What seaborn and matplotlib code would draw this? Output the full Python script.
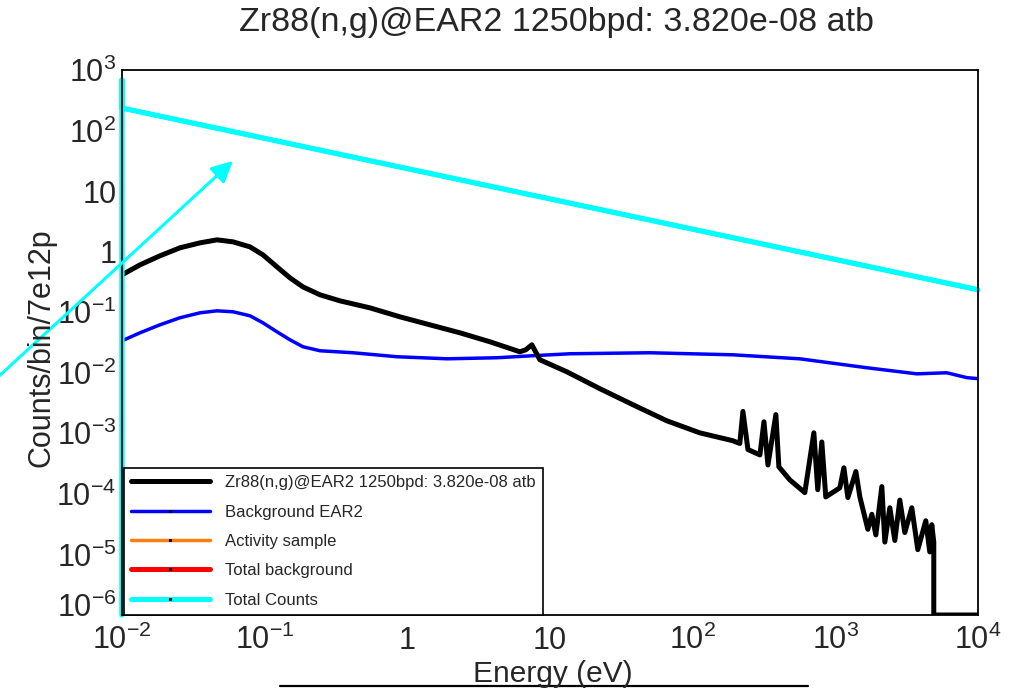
import matplotlib
matplotlib.use("Agg")
import matplotlib.pyplot as plt
import matplotlib.transforms as mtransforms
import seaborn as sns
import pandas as pd
from matplotlib.lines import Line2D
from matplotlib.ticker import FixedLocator, FixedFormatter, LogLocator, NullFormatter

# ---------------- data ----------------
title = "Zr88(n,g)@EAR2 1250bpd: 3.820e-08 atb"

sample_E = [0.01, 0.01337, 0.01845, 0.02547, 0.03521, 0.04634, 0.0600, 0.0789, 0.0973,
            0.1219, 0.1503, 0.1854, 0.2441, 0.3373, 0.5471, 0.8872, 1.439, 2.336, 3.79,
            6.15, 6.78, 7.46, 8.49, 13.1, 22.4, 38.1, 65.9, 112, 191, 214, 225, 244,
            296, 316, 337, 383, 402, 480, 611, 707, 753, 804, 857, 1075, 1148, 1224,
            1393, 1486, 1690, 1803, 1923, 2118, 2223, 2410, 2612, 2831, 3069, 3436,
            3784, 4305, 4592, 4742, 4898, 4898, 10000]
sample_counts = [0.414, 0.605, 0.853, 1.156, 1.397, 1.566, 1.452, 1.199, 0.885,
                 0.561, 0.370, 0.262, 0.194, 0.154, 0.118, 0.0839, 0.0619, 0.0457, 0.0325,
                 0.0222, 0.024, 0.029, 0.0164, 0.0104, 0.00545, 0.00297, 0.00161, 0.00102,
                 0.000755, 0.00068, 0.0023, 0.00054, 0.00044, 0.00155, 0.00030,
                 0.00204, 0.00028, 0.00017, 0.000105, 0.00102, 0.000117, 0.00072,
                 0.000089, 0.000126, 0.00027, 0.000087, 0.000234, 0.000089, 2.6e-5,
                 4.6e-5, 2.1e-5, 0.000132, 1.6e-5, 5.9e-5, 1.7e-5, 7.9e-5, 2.3e-5,
                 5.9e-5, 1.2e-5, 3.6e-5, 1.1e-5, 3.1e-5, 1.6e-5, 1e-6, 1e-6]

bkg_E = [0.01, 0.01337, 0.01845, 0.02547, 0.03521, 0.04634, 0.0600, 0.0789, 0.0973,
         0.1219, 0.1503, 0.1854, 0.2441, 0.416, 0.845, 1.90, 4.25, 7.23, 13.8, 50.1,
         191, 564, 1663, 3724, 6040, 8360, 10000]
bkg_counts = [0.0337, 0.0457, 0.0619, 0.0809, 0.0977, 0.1054, 0.1016, 0.0873, 0.0668,
              0.0475, 0.0351, 0.0269, 0.0231, 0.0214, 0.0184, 0.0170, 0.0177, 0.0190,
              0.0206, 0.0214, 0.0198, 0.0170, 0.0121, 0.0096, 0.0100, 0.0083, 0.0080]

total_E = [0.01, 0.01, 0.01, 0.1, 1, 10, 100, 1000, 10000]
total_counts = [1e-6, 684, 235, 74.3, 23.5, 7.43, 2.35, 0.743, 0.235]
activity_counts = [1e-6, 684, 235, 74.3, 23.5, 7.43, 2.35, 0.743, 0.235]
total_bkg_counts = [1e-6, 684, 235, 74.3, 23.5, 7.43, 2.35, 0.743, 0.235]

legend_labels = [title, "Background EAR2", "Activity sample", "Total background", "Total Counts"]
legend_colors = ["black", "#0000ff", "#ff7f0e", "#ff0000", "#00ffff"]

x_ticks = [1e-2, 1e-1, 1, 10, 1e2, 1e3, 1e4]
x_ticklabels = [r"$\mathdefault{10^{-2}}$", r"$\mathdefault{10^{-1}}$", "1", "10",
                r"$\mathdefault{10^{2}}$", r"$\mathdefault{10^{3}}$", r"$\mathdefault{10^{4}}$"]
y_ticks = [1e-6, 1e-5, 1e-4, 1e-3, 1e-2, 1e-1, 1, 10, 1e2, 1e3]
y_ticklabels = [r"$\mathdefault{10^{-6}}$", r"$\mathdefault{10^{-5}}$", r"$\mathdefault{10^{-4}}$",
                r"$\mathdefault{10^{-3}}$", r"$\mathdefault{10^{-2}}$", r"$\mathdefault{10^{-1}}$",
                "1", "10", r"$\mathdefault{10^{2}}$", r"$\mathdefault{10^{3}}$"]

# ---------------- style ----------------
sns.set_style("white")
plt.rcParams['font.family'] = ['Liberation Sans', 'DejaVu Sans']
plt.rcParams['mathtext.fontset'] = 'custom'
plt.rcParams['mathtext.rm'] = 'Liberation Sans'
plt.rcParams['mathtext.it'] = 'Liberation Sans'
plt.rcParams['mathtext.bf'] = 'Liberation Sans'

fig = plt.figure(figsize=(10.14, 6.88), dpi=100)
ax = fig.add_axes([0.1203, 0.1061, 0.8442, 0.7922])
ax.set_xscale('log')
ax.set_yscale('log')

df_sample = pd.DataFrame({"E": sample_E, "c": sample_counts})
df_bkg = pd.DataFrame({"E": bkg_E, "c": bkg_counts})
df_tot = pd.DataFrame({"E": total_E, "c": total_counts,
                       "act": activity_counts, "tb": total_bkg_counts})

sns.lineplot(data=df_bkg, x="E", y="c", sort=False, estimator=None, color=legend_colors[1],
             lw=2.5, ax=ax, legend=False)
sns.lineplot(data=df_sample, x="E", y="c", sort=False, estimator=None, color=legend_colors[0],
             lw=3.6, ax=ax, legend=False)
sns.lineplot(data=df_tot, x="E", y="act", sort=False, estimator=None, color=legend_colors[2],
             lw=2.0, ax=ax, legend=False, clip_on=False)
sns.lineplot(data=df_tot, x="E", y="tb", sort=False, estimator=None, color=legend_colors[3],
             lw=3.0, ax=ax, legend=False, clip_on=False)
sns.lineplot(data=df_tot, x="E", y="c", sort=False, estimator=None, color=legend_colors[4],
             lw=3.8, ax=ax, legend=False, clip_on=False)

ax.set_xlim(1e-2, 1e4)
ax.set_ylim(1e-6, 1e3)
ax.set_xlabel("")
ax.set_ylabel("")

ax.xaxis.set_major_locator(FixedLocator(x_ticks))
ax.xaxis.set_major_formatter(FixedFormatter(x_ticklabels))
ax.yaxis.set_major_locator(FixedLocator(y_ticks))
ax.yaxis.set_major_formatter(FixedFormatter(y_ticklabels))
ax.xaxis.set_minor_locator(LogLocator(base=10, subs=range(2, 10), numticks=20))
ax.yaxis.set_minor_locator(LogLocator(base=10, subs=range(2, 10), numticks=20))
ax.xaxis.set_minor_formatter(NullFormatter())
ax.yaxis.set_minor_formatter(NullFormatter())

ax.tick_params(axis='both', which='both', direction='in', top=False, right=False,
               color='black', width=1.0, labelsize=22)
ax.tick_params(axis='x', which='major', length=10, pad=24.5)
ax.tick_params(axis='x', which='minor', length=5)
ax.tick_params(axis='y', which='major', length=19, pad=4)
ax.tick_params(axis='y', which='minor', length=10)
for s in ax.spines.values():
    s.set_color('black')
    s.set_linewidth(1.3)

# arrow drawn in the reference
ax.annotate("", xy=(0.060, 31.5), xytext=(0.0013, 0.0078), xycoords='data', textcoords='data',
            arrowprops=dict(arrowstyle='-|>', color='#00ffff', lw=2.2, mutation_scale=32,
                            shrinkA=0, shrinkB=0),
            annotation_clip=False)

# legend
handles = [
    Line2D([], [], color=legend_colors[0], lw=3.6),
    Line2D([], [], color=legend_colors[1], lw=2.5, marker='s', ms=1.2, mfc='black', mec='black'),
    Line2D([], [], color=legend_colors[2], lw=2.5, marker='s', ms=1.2, mfc='black', mec='black'),
    Line2D([], [], color=legend_colors[3], lw=3.6, marker='s', ms=1.2, mfc='black', mec='black'),
    Line2D([], [], color=legend_colors[4], lw=3.6, marker='s', ms=1.2, mfc='black', mec='black'),
]
leg = ax.legend(handles, legend_labels, loc='lower left', bbox_to_anchor=(0.002, 0.0),
                frameon=True, fancybox=False, edgecolor='black', framealpha=1,
                fontsize=12, handlelength=4.7, handletextpad=0.95, labelspacing=0.86,
                borderpad=0.45, borderaxespad=0, numpoints=1)
leg.get_frame().set_linewidth(1.2)
leg.set_zorder(5)

# texts
fig.text(0.549, 0.968, title, ha='center', va='center', fontsize=24.5)
fig.text(0.545, 1 - 682 / 688, "Energy (eV)", ha='center', va='baseline', fontsize=21.5)
fig.text(0.041, 0.495, "Counts/bin/7e12p", ha='center', va='center', rotation=90, fontsize=22)
fig.add_artist(Line2D([0.276, 0.797], [0.0035, 0.0035], transform=fig.transFigure,
                      color='black', lw=1.6))

for t in ax.xaxis.get_major_ticks():
    t.label1.set_verticalalignment('baseline')

# nudge the lowest y label up a little so it clears the first x label
lowest = ax.yaxis.get_major_ticks()[0].label1
lowest.set_transform(lowest.get_transform() +
                     mtransforms.ScaledTranslation(0, 7 / 72, fig.dpi_scale_trans))

fig.savefig("out.png", dpi=100)
